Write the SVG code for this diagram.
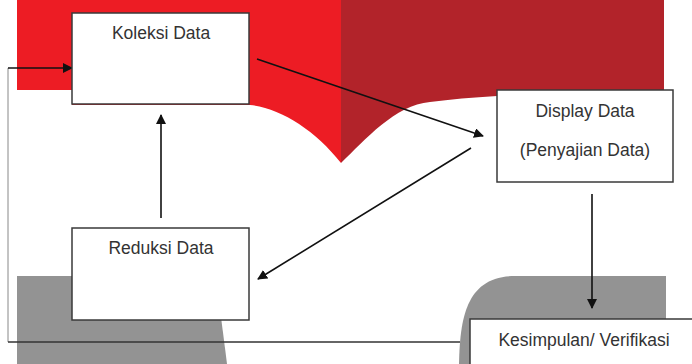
<svg xmlns="http://www.w3.org/2000/svg" width="692" height="364" viewBox="0 0 692 364">
<style>
.box{fill:#fff;stroke:#3a3a3a;stroke-width:1.5}
.lbl{font-family:"Liberation Sans",Arial,sans-serif;font-size:17.5px;fill:#333;text-anchor:middle}
.arr{stroke:#111;stroke-width:1.6;fill:none;marker-end:url(#ah)}
</style>
<defs>
<marker id="ah" viewBox="0 0 10 10" refX="9" refY="5" markerWidth="10" markerHeight="10" markerUnits="userSpaceOnUse" orient="auto">
<path d="M0,0 L10,5 L0,10 Z" fill="#111"/>
</marker>
</defs>
<g id="background">
<path d="M341,0 H664 V90 H497 V96 Q460,98 430,102 C395,105 365,140 341,163 Z" fill="#B2232A"/>
<path d="M17,0 H341 V163 C315,130 280,108 250,105 H72 V90 H17 Z" fill="#ED1C24"/>
<path d="M17,276 H215 Q219,300 227,364 H17 Z" fill="#939393"/>
<path d="M459,364 C460,318 466,276 515,276 H666 V364 Z" fill="#939393"/>
</g>
<g id="connectors">
<line x1="8" y1="68" x2="8" y2="342" stroke="#888" stroke-width="1"/>
<line x1="8" y1="342" x2="460" y2="342" stroke="#333" stroke-width="1.5"/>
<line class="arr" x1="8" y1="68" x2="72" y2="68"/>
<line class="arr" x1="161" y1="218" x2="161" y2="115"/>
<line class="arr" x1="257" y1="59" x2="483" y2="136"/>
<line class="arr" x1="471" y1="148" x2="258" y2="279"/>
<line class="arr" x1="592" y1="194" x2="592" y2="308"/>
</g>
<g id="koleksi">
<rect class="box" x="72" y="13" width="177" height="91"/>
<text class="lbl" x="161" y="39">Koleksi Data</text>
</g>
<g id="display">
<rect class="box" x="497" y="90" width="176" height="92"/>
<text class="lbl" x="585" y="117">Display Data</text>
<text class="lbl" x="585" y="156">(Penyajian Data)</text>
</g>
<g id="reduksi">
<rect class="box" x="72" y="228" width="177" height="92"/>
<text class="lbl" x="161" y="254">Reduksi Data</text>
</g>
<g id="kesimpulan">
<rect class="box" x="470" y="319" width="240" height="60"/>
<text class="lbl" x="584" y="346">Kesimpulan/ Verifikasi</text>
</g>
</svg>
